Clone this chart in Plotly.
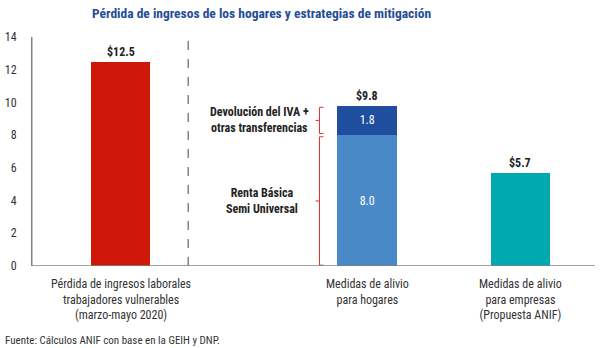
import plotly.graph_objects as go

categories = ["Pérdida de ingresos laborales<br>trabajadores vulnerables<br>(marzo-mayo 2020)",
              "Medidas de alivio<br>para hogares",
              "Medidas de alivio<br>para empresas<br>(Propuesta ANIF)"]
perdida = [12.5, None, None]
renta_basica = [None, 8.0, None]
devolucion_iva = [None, 1.8, None]
empresas = [None, None, 5.7]
totals = [12.5, 9.8, 5.7]
y_ticks = [0, 2, 4, 6, 8, 10, 12, 14]

# layout positions (pixel-like units on a linear x axis)
xpos = [89, 337, 491]
bar_w = 60
FONT = "Liberation Sans Narrow, Arial Narrow, Roboto Condensed, Liberation Sans, Arial"

fig = go.Figure()
fig.add_bar(x=xpos, y=perdida, width=bar_w, marker_color="#D0180A", marker_line_width=0)
fig.add_bar(x=xpos, y=renta_basica, width=bar_w, marker_color="#4A89C8", marker_line_width=0,
            text=[None if v is None else f"{v:.1f}" for v in renta_basica], textposition="inside",
            insidetextanchor="middle", textfont=dict(color="white", size=12, family=FONT))
fig.add_bar(x=xpos, y=devolucion_iva, width=bar_w, marker_color="#1F4E9F", marker_line_width=0,
            text=[None if v is None else f"{v:.1f}" for v in devolucion_iva], textposition="inside",
            insidetextanchor="middle", textfont=dict(color="white", size=12, family=FONT))
fig.add_bar(x=xpos, y=empresas, width=bar_w, marker_color="#00A8B0", marker_line_width=0)

for x, t in zip(xpos, totals):
    fig.add_annotation(x=x, y=t, text=f"<b>${t:.1f}</b>", showarrow=False, yanchor="bottom",
                       yshift=1, font=dict(size=12, color="#222222", family=FONT))

for x, c in zip(xpos, categories):
    fig.add_annotation(x=x, y=0, text=c, showarrow=False, yanchor="top", yshift=-9,
                       font=dict(size=12, color="#333333", family=FONT))

# dashed separator
fig.add_shape(type="line", x0=157, x1=157, y0=0, y1=14.2, xref="x", yref="y",
              line=dict(color="#444444", width=1, dash="dash"))

# braces
def brace(y0, y1, xb):
    ym = (y0 + y1) / 2
    return (f"M {xb+4},{y1} L {xb},{y1} L {xb},{ym} L {xb-4},{ym} M {xb},{ym} "
            f"L {xb},{y0} L {xb+4},{y0}")

b_lo = renta_basica[1]
b_hi = renta_basica[1] + devolucion_iva[1]
fig.add_shape(type="path", path=brace(b_lo + 0.1, b_hi - 0.1, 289), xref="x", yref="y",
              line=dict(color="#E03030", width=1))
fig.add_shape(type="path", path=brace(0.05, b_lo - 0.1, 289), xref="x", yref="y",
              line=dict(color="#E03030", width=1))

fig.add_annotation(x=229, y=(b_lo + b_hi) / 2, text="<b>Devolución del IVA +<br>otras transferencias</b>",
                   showarrow=False, font=dict(size=12, color="#222222", family=FONT))
fig.add_annotation(x=231, y=b_lo / 2, text="<b>Renta Básica<br>Semi Universal</b>",
                   showarrow=False, font=dict(size=12, color="#222222", family=FONT))

fig.add_annotation(xref="paper", yref="paper", x=(260 - 29) / 566, y=1, yshift=24, yanchor="middle",
                   text="<b>Pérdida de ingresos de los hogares y estrategias de mitigación</b>",
                   showarrow=False, font=dict(size=13.5, color="#1F4E96", family=FONT))
fig.add_annotation(xref="paper", yref="paper", x=-29 / 566, xanchor="left", y=0, yshift=-74,
                   yanchor="middle",
                   text="Fuente: Cálculos ANIF con base en la GEIH y DNP.", showarrow=False,
                   font=dict(size=11, color="#333333", family=FONT))

fig.update_layout(
    width=600, height=348, barmode="stack", showlegend=False,
    margin=dict(l=29, r=5, t=37, b=82),
    plot_bgcolor="white", paper_bgcolor="white",
    xaxis=dict(range=[0, 566], showticklabels=False, showgrid=False, zeroline=False,
               showline=False, fixedrange=True),
    yaxis=dict(range=[0, 14], tickvals=y_ticks, showgrid=False, zeroline=False,
               showline=True, linecolor="#808080", linewidth=1,
               tickfont=dict(size=12, color="#333333", family=FONT), ticks="", ticklabelstandoff=12),
)
fig.add_shape(type="line", x0=0, x1=1, y0=0, y1=0, xref="paper", yref="y",
              line=dict(color="#808080", width=1.5))
fig.add_shape(type="line", x0=0, x1=0, y0=0, y1=14.25, xref="paper", yref="y",
              line=dict(color="#808080", width=1))

fig.write_html("out.html")
